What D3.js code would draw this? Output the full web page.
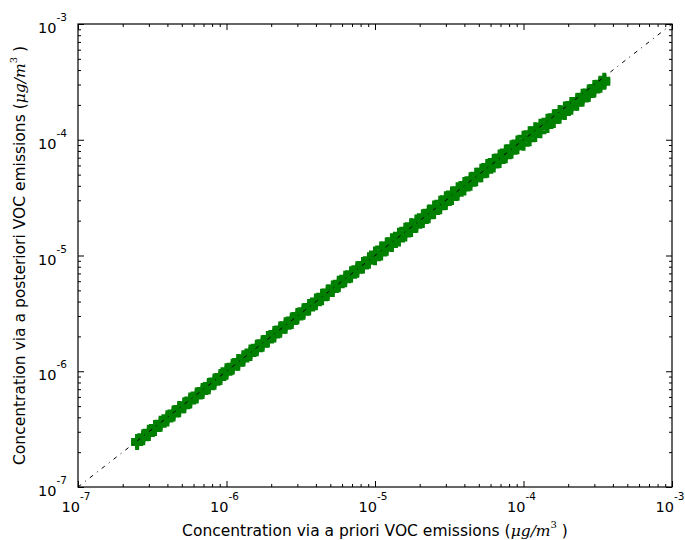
<!DOCTYPE html>
<html><head><meta charset="utf-8">
<script src="https://cdn.jsdelivr.net/npm/d3@7/dist/d3.min.js"></script>
<style>body{margin:0;background:#fff}svg{display:block}</style>
</head><body>
<svg id="chart" width="685" height="540"></svg>
<script>
// Data
const prioriConc = [
 2.5e-7,2.75e-7,3.0e-7,3.3e-7,3.6e-7,4.0e-7,4.4e-7,4.8e-7,5.2e-7,5.7e-7,6.3e-7,6.9e-7,7.6e-7,8.3e-7,9.1e-7,
 1.0e-6,1.1e-6,1.2e-6,1.3e-6,1.45e-6,1.6e-6,1.75e-6,1.9e-6,2.1e-6,2.3e-6,2.5e-6,2.75e-6,3.0e-6,3.3e-6,3.6e-6,4.0e-6,4.4e-6,4.8e-6,5.2e-6,5.7e-6,6.3e-6,6.9e-6,7.6e-6,8.3e-6,9.1e-6,
 1.0e-5,1.1e-5,1.2e-5,1.3e-5,1.45e-5,1.6e-5,1.75e-5,1.9e-5,2.1e-5,2.3e-5,2.5e-5,2.75e-5,3.0e-5,3.3e-5,3.6e-5,4.0e-5,4.4e-5,4.8e-5,5.2e-5,5.7e-5,6.3e-5,6.9e-5,7.6e-5,8.3e-5,9.1e-5,
 1.0e-4,1.1e-4,1.2e-4,1.3e-4,1.45e-4,1.6e-4,1.75e-4,1.9e-4,2.1e-4,2.3e-4,2.5e-4,2.75e-4,3.0e-4,3.3e-4,3.5e-4
];
const posterioriHigh = [
 2.55e-7,2.8e-7,3.06e-7,3.37e-7,3.67e-7,4.08e-7,4.49e-7,4.9e-7,5.3e-7,5.81e-7,6.43e-7,7.04e-7,7.75e-7,8.47e-7,9.28e-7,
 1.04e-6,1.14e-6,1.25e-6,1.35e-6,1.51e-6,1.66e-6,1.82e-6,1.98e-6,2.18e-6,2.39e-6,2.6e-6,2.86e-6,3.12e-6,3.43e-6,3.74e-6,4.16e-6,4.58e-6,4.99e-6,5.41e-6,5.93e-6,6.55e-6,7.18e-6,7.9e-6,8.63e-6,9.46e-6,
 1.06e-5,1.17e-5,1.27e-5,1.38e-5,1.54e-5,1.7e-5,1.86e-5,2.01e-5,2.23e-5,2.44e-5,2.65e-5,2.92e-5,3.18e-5,3.5e-5,3.82e-5,4.24e-5,4.66e-5,5.09e-5,5.51e-5,6.04e-5,6.68e-5,7.31e-5,8.06e-5,8.8e-5,9.65e-5,
 1.06e-4,1.16e-4,1.26e-4,1.35e-4,1.49e-4,1.63e-4,1.77e-4,1.9e-4,2.08e-4,2.25e-4,2.45e-4,2.67e-4,2.91e-4,3.17e-4,3.36e-4
];
const posterioriMid = [
 2.45e-7,2.7e-7,2.94e-7,3.23e-7,3.53e-7,3.92e-7,4.31e-7,4.7e-7,5.1e-7,5.59e-7,6.17e-7,6.76e-7,7.45e-7,8.13e-7,8.92e-7,
 0.99e-6,1.09e-6,1.19e-6,1.29e-6,1.44e-6,1.58e-6,1.73e-6,1.88e-6,2.08e-6,2.28e-6,2.48e-6,2.72e-6,2.97e-6,3.27e-6,3.56e-6,3.96e-6,4.36e-6,4.75e-6,5.15e-6,5.64e-6,6.24e-6,6.83e-6,7.52e-6,8.22e-6,9.01e-6,
 0.99e-5,1.09e-5,1.19e-5,1.29e-5,1.44e-5,1.58e-5,1.73e-5,1.88e-5,2.08e-5,2.28e-5,2.48e-5,2.72e-5,2.97e-5,3.27e-5,3.56e-5,3.96e-5,4.36e-5,4.75e-5,5.15e-5,5.64e-5,6.24e-5,6.83e-5,7.52e-5,8.22e-5,9.01e-5,
 0.98e-4,1.07e-4,1.17e-4,1.26e-4,1.39e-4,1.53e-4,1.66e-4,1.79e-4,1.96e-4,2.14e-4,2.31e-4,2.53e-4,2.76e-4,3.02e-4,3.2e-4
];
const posterioriLow = [
 2.35e-7,2.59e-7,2.82e-7,3.1e-7,3.38e-7,3.76e-7,4.14e-7,4.51e-7,4.89e-7,5.36e-7,5.92e-7,6.49e-7,7.14e-7,7.8e-7,8.55e-7,
 0.95e-6,1.05e-6,1.14e-6,1.24e-6,1.38e-6,1.52e-6,1.66e-6,1.81e-6,2.0e-6,2.19e-6,2.38e-6,2.61e-6,2.85e-6,3.14e-6,3.42e-6,3.8e-6,4.18e-6,4.56e-6,4.94e-6,5.42e-6,5.99e-6,6.56e-6,7.22e-6,7.89e-6,8.65e-6,
 0.93e-5,1.02e-5,1.12e-5,1.21e-5,1.35e-5,1.49e-5,1.63e-5,1.77e-5,1.95e-5,2.14e-5,2.33e-5,2.56e-5,2.79e-5,3.07e-5,3.35e-5,3.72e-5,4.09e-5,4.46e-5,4.84e-5,5.3e-5,5.86e-5,6.42e-5,7.07e-5,7.72e-5,8.46e-5,
 0.905e-4,0.99e-4,1.08e-4,1.16e-4,1.29e-4,1.42e-4,1.55e-4,1.67e-4,1.85e-4,2.01e-4,2.18e-4,2.39e-4,2.61e-4,2.87e-4,3.05e-4
];
const majorTicks = [1e-7,1e-6,1e-5,1e-4,1e-3];
const tickExponents = ["-7","-6","-5","-4","-3"];
const axisDomain = [1e-7, 1e-3];
const onetoone = [1e-7, 1e-3];

const svg = d3.select("#chart");
const L = 78, R = 672, T = 24, B = 487;
const x = d3.scaleLog().domain(axisDomain).range([L, R]);
const y = d3.scaleLog().domain(axisDomain).range([B, T]);

const minorTicks = [];
majorTicks.slice(0, -1).forEach(m => { for (let k = 2; k <= 9; k++) minorTicks.push(m * k); });

// points
const pts = [];
prioriConc.forEach((v, i) => {
  pts.push([v, posterioriLow[i]]);
  pts.push([v, posterioriMid[i]]);
  pts.push([v, posterioriHigh[i]]);
});
const green = "#008000";
svg.append("g").selectAll("path").data(pts).join("path")
  .attr("transform", d => `translate(${x(d[0])},${y(d[1])})`)
  .attr("d", "M-6,0H6M0,-6V6")
  .attr("stroke", green).attr("stroke-width", 4).attr("fill", "none");

// 1:1 line
svg.append("line")
  .attr("x1", x(onetoone[0])).attr("y1", y(onetoone[0]))
  .attr("x2", x(onetoone[1])).attr("y2", y(onetoone[1]))
  .attr("stroke", "#000").attr("stroke-width", 1)
  .attr("stroke-dasharray", "4,5,1,5");

// axes ticks (inside)
function addAxis(gen, tx, ty, vals, size) {
  const g = svg.append("g").attr("transform", `translate(${tx},${ty})`)
    .call(gen.tickValues(vals).tickSizeInner(size).tickSizeOuter(0).tickFormat(""));
  g.select(".domain").remove();
  g.selectAll("line").attr("stroke", "#000").attr("stroke-width", 1);
}
[[majorTicks, -6], [minorTicks, -3]].forEach(([v, s]) => {
  addAxis(d3.axisBottom(x), 0, B, v, s);
  addAxis(d3.axisTop(x), 0, T, v, s);
  addAxis(d3.axisLeft(y), L, 0, v, s);
  addAxis(d3.axisRight(y), R, 0, v, s);
});

// frame
svg.append("rect").attr("x", L).attr("y", T).attr("width", R - L).attr("height", B - T)
  .attr("fill", "none").attr("stroke", "#000").attr("stroke-width", 1.2);

const font = "DejaVu Sans, sans-serif";
// x tick labels
majorTicks.forEach((v, i) => {
  const t = svg.append("text").attr("font-family", font).attr("font-size", 14.5)
    .attr("text-anchor", "middle").attr("x", x(v) - 2).attr("y", B + 25);
  t.append("tspan").text("10");
  t.append("tspan").attr("font-size", 10.5).attr("dy", -12).text(tickExponents[i]);
});
// y tick labels
majorTicks.forEach((v, i) => {
  const t = svg.append("text").attr("font-family", font).attr("font-size", 14.5)
    .attr("text-anchor", "end").attr("x", 67).attr("y", y(v) + 9);
  t.append("tspan").text("10");
  t.append("tspan").attr("font-size", 10.5).attr("dy", -12).text(tickExponents[i]);
});

// axis titles
function title(sel, pre) {
  sel.append("tspan").text(pre + " (");
  sel.append("tspan").attr("font-family", "DejaVu Serif, serif").attr("font-style", "italic").text("\u03BCg/m");
  sel.append("tspan").attr("font-family", "DejaVu Serif, serif").attr("font-size", 10).attr("dy", -8).text("3");
  sel.append("tspan").attr("dy", 8).text(" )");
}
const xt = svg.append("text").attr("font-family", font).attr("font-size", 15.5)
  .attr("text-anchor", "middle").attr("x", (L + R) / 2).attr("y", 536);
title(xt, "Concentration via a priori VOC emissions");
const yt = svg.append("text").attr("font-family", font).attr("font-size", 15.5)
  .attr("text-anchor", "middle").attr("transform", `translate(25,${(T + B) / 2}) rotate(-90)`);
title(yt, "Concentration via a posteriori VOC emissions");
</script>
</body></html>
